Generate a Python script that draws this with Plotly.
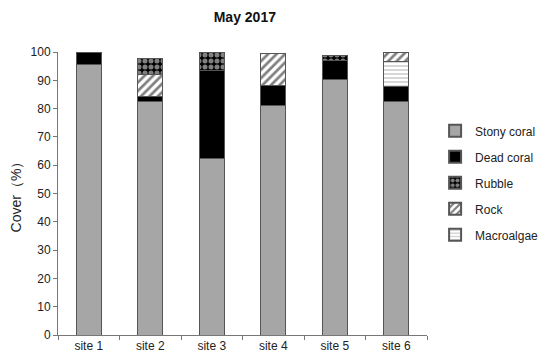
import plotly.graph_objects as go

# Sites and cover values (%)
sites = ["site 1", "site 2", "site 3", "site 4", "site 5", "site 6"]
stony_coral = [95.5, 82.5, 62.5, 81.0, 90.3, 82.4]
dead_coral = [4.5, 1.7, 31.1, 7.1, 6.6, 5.3]
rubble = [0, 5.9, 6.4, 0, 1.8, 0]
rock = [0, 7.7, 0, 11.2, 0, 3.4]
macroalgae = [0, 0, 0, 0, 0, 8.9]

# stacking order bottom -> top, legend order given separately
stack = [
    ("Stony coral", stony_coral, 1),
    ("Dead coral", dead_coral, 2),
    ("Macroalgae", macroalgae, 5),
    ("Rock", rock, 4),
    ("Rubble", rubble, 3),
]

styles = {
    "Stony coral": dict(color="#a6a6a6", pattern=dict(shape="")),
    "Dead coral": dict(color="#000000", pattern=dict(shape="")),
    "Rubble": dict(color="black", pattern=dict(shape=".", fgcolor="white", bgcolor="black",
                                               size=6, solidity=0.55, fillmode="overlay")),
    "Rock": dict(color="white", pattern=dict(shape="/", fgcolor="black", bgcolor="white",
                                             size=6, solidity=0.45, fillmode="overlay")),
    "Macroalgae": dict(color="white", pattern=dict(shape="-", fgcolor="#9a9a9a", bgcolor="white",
                                                   size=4, solidity=0.4, fillmode="overlay")),
}

fig = go.Figure()
for name, vals, rank in stack:
    st = styles[name]
    fig.add_trace(go.Bar(
        x=sites, y=vals, name=name, width=0.41, legendrank=rank, legendgroup=name,
        marker=dict(color=st["color"], pattern=st["pattern"],
                    line=dict(color="#555555", width=1)),
    ))

# page has an 8px body margin, so the figure is 8px smaller and shifted
fig.update_layout(
    barmode="stack",
    width=542, height=353,
    margin=dict(l=50, r=123, t=44, b=26, autoexpand=False),
    plot_bgcolor="white", paper_bgcolor="white",
    font=dict(family="Liberation Sans, Arial, sans-serif", size=12, color="#222222"),
    title=dict(text="<b>May 2017</b>", x=0.437, xref="container", xanchor="center",
               y=0.975, yref="container", yanchor="middle",
               font=dict(size=14, color="#111111")),
    legend=dict(xref="container", x=0.788, xanchor="left", yref="container", y=0.693,
                yanchor="top", tracegroupgap=7, itemsizing="constant",
                font=dict(size=12), itemwidth=30),
    showlegend=True,
)
fig.update_xaxes(showline=True, linecolor="#777777", linewidth=1, ticks="outside",
                 tickson="boundaries", ticklen=4, tickcolor="#777777", showgrid=False,
                 automargin=False)
fig.update_yaxes(range=[0, 100], dtick=10, showline=True, linecolor="#777777", linewidth=1,
                 ticks="outside", ticklen=4, tickcolor="#777777", showgrid=False,
                 automargin=False, title=dict(text="Cover（%）", standoff=6))

fig.write_html("out.html")
